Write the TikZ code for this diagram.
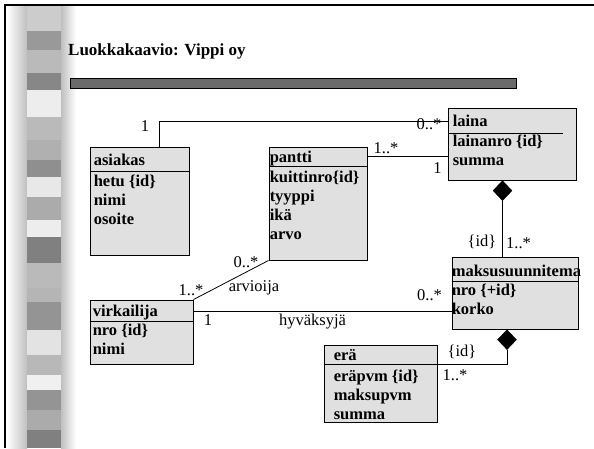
\documentclass[tikz,border=0pt]{standalone}
\usepackage{fontspec}
\setmainfont{Liberation Serif}
\usetikzlibrary{shapes.geometric}
\usetikzlibrary{calc}

\definecolor{boxgray}{HTML}{E0E0E0}

\tikzset{
  classbox/.style={draw, fill=boxgray, line width=0.9pt, inner sep=0pt},
  classhead/.style={anchor=base west, inner sep=0pt, font=\fontsize{16.5}{19}\selectfont\bfseries},
  classattr/.style={anchor=base west, inner sep=0pt, font=\fontsize{16.5}{19}\selectfont\bfseries},
  mult/.style={inner sep=0pt, font=\fontsize{16.5}{19}\selectfont},
  assoc/.style={line width=0.8pt},
  compdiamond/.style={diamond, fill=black, draw=black, inner sep=0pt, minimum width=19pt, minimum height=20pt, anchor=north}
}
% attribute list, baseline on its first line
\newcommand{\attrlist}[1]{\begin{tabular}[t]{@{}l@{}}#1\end{tabular}}

\begin{document}
\begin{tikzpicture}[x=1pt, y=-1pt]
  \useasboundingbox (0,0) rectangle (594,448);
  % slide frame and side strip
  \shade[left color=white, right color=black!25] (7,6) rectangle (27,448);
  \shade[left color=black!25, right color=white] (61,6) rectangle (76,448);
  \fill[black!20] (27,6) rectangle (61,15);
  \foreach \ya/\yb/\g in {15/31/20, 31/50/40, 50/73/27, 73/90/47, 90/117/7, 117/140/27,
      140/160/31, 160/177/44, 177/197/9, 197/220/33, 220/237/7, 237/263/50,
      263/288/27, 288/302/29, 302/330/42, 330/355/11, 355/375/28, 375/390/6,
      390/410/42, 410/430/33, 430/448/50}
    \fill[black!\g] (27,\ya) rectangle (61,\yb);
  \draw[line width=2pt] (594,5) -- (5,5) -- (5,448);

  % title
  \node[anchor=base west, inner sep=0pt, font=\fontsize{17}{20}\selectfont\bfseries] (title) at (68,55) {Luokkakaavio: Vippi oy};
  \draw[fill=black!58, line width=0.8pt] (70,78) rectangle (516,88);

  % classes
  \node[classbox, minimum width=99pt, minimum height=108pt] (asiakas) at (139.5,201) {};
  \draw (asiakas.west |- 0,171) -- (asiakas.east |- 0,171);
  \node[classhead] (asiakas-h) at ($(asiakas.north west)+(4,19)$) {asiakas};
  \node[classattr] (asiakas-a) at ($(asiakas.north west)+(4,40)$) {\attrlist{hetu \{id\}\\nimi\\osoite}};

  \node[classbox, minimum width=98pt, minimum height=113pt] (pantti) at (318,203.5) {};
  \draw (pantti.west |- 0,166) -- (pantti.east |- 0,166);
  \node[classhead] (pantti-h) at ($(pantti.north west)+(1,16)$) {pantti};
  \node[classattr] (pantti-a) at ($(pantti.north west)+(1,36)$) {\attrlist{kuittinro\{id\}\\tyyppi\\ikä\\arvo}};

  \node[classbox, minimum width=128pt, minimum height=72pt] (laina) at (512,144) {};
  \draw (laina.west |- 0,133) -- ($(laina.east |- 0,133)+(-13,0)$);
  \node[classhead] (laina-h) at ($(laina.north west)+(5,19)$) {laina};
  \node[classattr] (laina-a) at ($(laina.north west)+(5,39)$) {\attrlist{lainanro \{id\}\\summa}};

  \node[classbox, minimum width=126pt, minimum height=72pt] (maksu) at (515,293) {};
  \draw (maksu.west |- 0,281) -- (maksu.east |- 0,281);
  \node[classhead] (maksu-h) at ($(maksu.north west)+(0,20)$) {maksusuunnitema};
  \node[classattr] (maksu-a) at ($(maksu.north west)+(0,39)$) {\attrlist{nro \{+id\}\\korko}};

  \node[classbox, minimum width=103pt, minimum height=64pt] (virkailija) at (141.5,332) {};
  \draw (virkailija.west |- 0,321) -- (virkailija.east |- 0,321);
  \node[classhead] (virkailija-h) at ($(virkailija.north west)+(3,17)$) {virkailija};
  \node[classattr] (virkailija-a) at ($(virkailija.north west)+(3,36)$) {\attrlist{nro \{id\}\\nimi}};

  \node[classbox, minimum width=113pt, minimum height=77pt] (era) at (380.5,383.5) {};
  \draw (era.west |- 0,364) -- (era.east |- 0,364);
  \node[classhead] (era-h) at ($(era.north west)+(10,16)$) {erä};
  \node[classattr] (era-a) at ($(era.north west)+(10,37)$) {\attrlist{eräpvm \{id\}\\maksupvm\\summa}};

  % connectors
  \draw[assoc] (159,0 |- asiakas.north) |- (laina.west |- 0,121);
  \draw[assoc] (pantti.east |- 0,156) -- (laina.west |- 0,156);
  \node[compdiamond] (laina-d) at (502.5,0 |- laina.south) {};
  \draw[assoc] (laina-d.south) -- (laina-d.south |- maksu.north);
  \draw[assoc] (pantti.south west) -- (virkailija.north east);
  \draw[assoc] (virkailija.east |- 0,311) -- (maksu.west |- 0,311);
  \node[compdiamond] (maksu-d) at (507,0 |- maksu.south) {};
  \draw[assoc] (maksu-d.south) |- (era.east |- 0,364);

  % multiplicities and roles
  \node[mult] (m-asiakas) at (145,126) {1};
  \node[mult] (m-laina1) at (429,124.5) {0..*};
  \node[mult] (m-pantti) at (386,148) {1..*};
  \node[mult] (m-laina2) at (437.5,168) {1};
  \node[mult] (m-id1) at (482,241.5) {\{id\}};
  \node[mult] (m-maksu1) at (518.5,243) {1..*};
  \node[mult] (m-pantti2) at (246,262) {0..*};
  \node[mult] (m-virk1) at (191,290) {1..*};
  \node[mult] (r-arvioija) at (254,288) {arvioija};
  \node[mult] (m-virk2) at (208,320.5) {1};
  \node[mult] (r-hyvaksyja) at (312.5,322) {hyväksyjä};
  \node[mult] (m-maksu2) at (429.5,295) {0..*};
  \node[mult] (m-id2) at (462,351.5) {\{id\}};
  \node[mult] (m-era) at (455,375) {1..*};
\end{tikzpicture}
\end{document}
